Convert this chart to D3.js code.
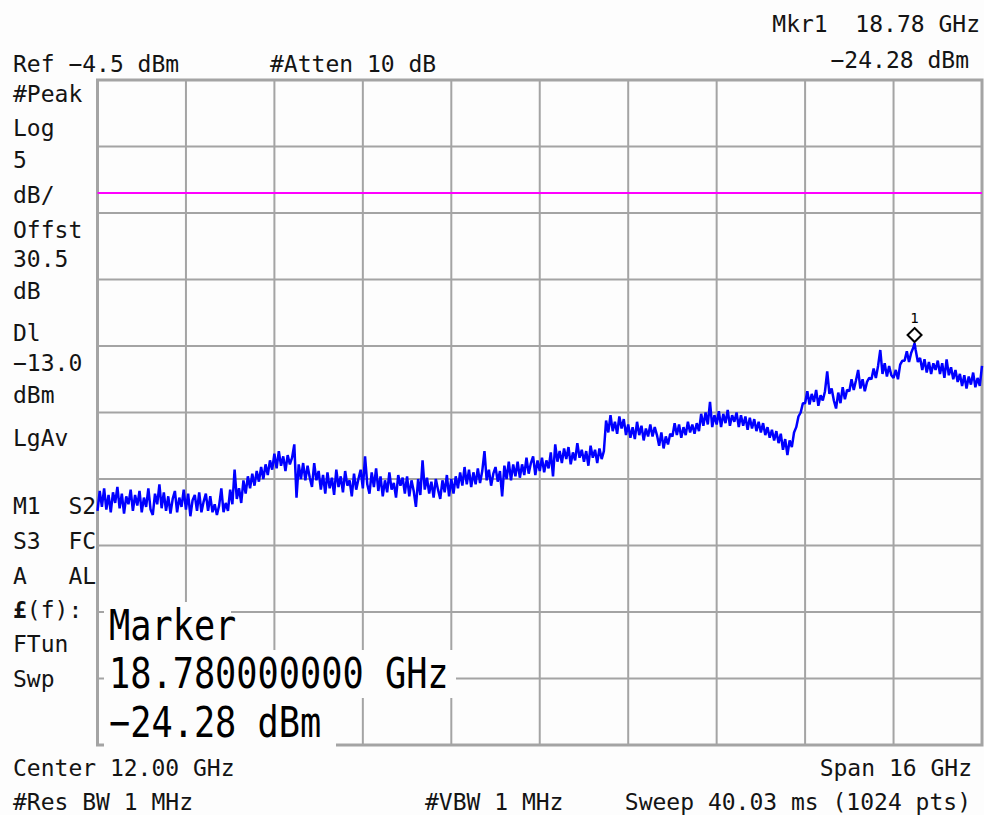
<!DOCTYPE html>
<html>
<head>
<meta charset="utf-8">
<script src="https://cdn.jsdelivr.net/npm/d3@7"></script>
<style>
  html, body { margin: 0; padding: 0; background: #fdfdfd; }
  svg { display: block; }
  text { font-family: "DejaVu Sans Mono", "Liberation Mono", monospace; fill: #141414; white-space: pre; }
</style>
</head>
<body>
<svg id="chart" width="984" height="815"></svg>
<script>
// Analyzer settings
const startGHz = 4.0;
const stopGHz = 20.0;
const refLevel = -4.5;          // dBm, top graticule line
const dbPerDiv = 5;
const divisions = 10;
const displayLine = -13.0;      // dBm
const markerFreq = 18.78;       // GHz
const markerLevel = -24.28;     // dBm
const stepGHz = 0.04;

// Trace levels (dBm), one every 0.04 GHz from 4 GHz to 20 GHz
const traceLevels = [
  -36.9,-35.4,-36.6,-35.2,-36.8,-35.7,-37.0,-35.5,-36.3,-35.1,
  -36.7,-35.6,-37.1,-35.8,-36.4,-35.3,-36.9,-35.7,-36.5,-35.4,
  -37.0,-35.9,-36.6,-35.2,-36.8,-37.2,-35.6,-36.4,-34.9,-36.7,
  -35.5,-36.9,-35.8,-37.1,-36.0,-35.4,-37.0,-35.9,-36.6,-35.3,
  -36.8,-35.6,-37.3,-36.1,-35.7,-36.9,-35.5,-37.0,-36.2,-35.6,
  -36.9,-35.8,-37.0,-36.4,-37.2,-36.5,-35.2,-37.0,-36.3,-36.9,
  -35.3,-36.4,-33.8,-36.0,-35.2,-36.3,-34.6,-35.6,-34.3,-35.2,
  -34.1,-35.0,-33.9,-34.7,-33.6,-34.5,-33.4,-34.2,-33.1,-33.8,
  -32.6,-33.7,-32.4,-33.5,-32.8,-33.9,-32.7,-33.4,-32.9,-31.9,
  -35.9,-33.4,-34.5,-33.3,-34.6,-33.5,-34.4,-35.1,-33.3,-34.6,
  -33.9,-35.3,-34.2,-35.6,-34.0,-35.2,-34.4,-35.7,-33.8,-35.1,
  -34.3,-35.5,-33.9,-35.0,-34.6,-35.8,-34.1,-35.3,-34.5,-33.8,
  -35.2,-32.8,-34.9,-35.6,-34.0,-35.1,-33.7,-35.4,-34.3,-35.8,
  -34.6,-35.5,-34.0,-35.3,-34.8,-35.9,-34.2,-35.0,-34.4,-35.6,
  -34.3,-35.8,-34.6,-35.4,-36.6,-34.5,-35.7,-33.1,-35.3,-34.4,
  -35.6,-34.7,-35.9,-34.5,-35.3,-36.0,-34.6,-35.5,-34.2,-35.8,
  -34.5,-35.6,-34.3,-35.2,-34.0,-35.0,-33.6,-34.9,-33.8,-35.1,
  -34.0,-34.9,-33.7,-34.8,-33.9,-32.4,-34.6,-33.8,-35.0,-34.1,
  -33.6,-34.7,-33.9,-35.8,-33.5,-34.5,-33.2,-34.6,-33.4,-34.3,
  -33.2,-34.4,-33.4,-34.2,-32.9,-34.1,-33.3,-32.8,-34.2,-33.1,
  -33.9,-32.9,-34.0,-33.1,-33.7,-32.5,-34.3,-31.9,-33.2,-32.4,
  -33.3,-32.2,-33.0,-32.1,-33.4,-32.5,-33.1,-31.8,-32.9,-32.3,
  -33.2,-32.4,-33.5,-32.0,-32.9,-32.3,-33.3,-32.2,-33.0,-32.4,
  -30.1,-31.0,-29.7,-30.9,-30.2,-31.1,-29.8,-30.7,-30.0,-31.2,
  -30.4,-31.4,-30.6,-31.5,-30.2,-31.2,-30.5,-31.6,-30.7,-31.3,
  -30.4,-31.3,-30.6,-31.2,-32.0,-31.0,-32.2,-31.3,-31.9,-31.1,
  -31.3,-30.3,-31.2,-30.4,-31.4,-30.6,-31.2,-30.2,-31.0,-30.4,
  -31.1,-30.3,-30.9,-29.6,-30.5,-29.5,-30.4,-28.7,-30.6,-29.7,
  -30.4,-29.4,-30.6,-29.6,-30.3,-29.3,-30.5,-29.7,-30.2,-29.5,
  -30.6,-29.7,-30.5,-29.8,-30.8,-29.9,-30.7,-30.0,-30.9,-30.2,
  -31.0,-30.3,-31.2,-30.6,-31.4,-30.8,-31.6,-30.9,-31.8,-31.1,
  -32.3,-31.5,-32.7,-31.6,-32.1,-31.0,-30.6,-29.8,-29.5,-28.8,
  -28.8,-27.9,-28.9,-28.1,-28.7,-27.8,-29.0,-28.2,-28.6,-27.9,
  -26.4,-28.1,-27.7,-28.6,-29.2,-28.0,-28.8,-27.6,-28.5,-27.8,
  -27.9,-27.0,-27.8,-27.1,-26.3,-27.7,-27.0,-27.9,-27.2,-26.9,
  -27.0,-26.2,-26.9,-26.0,-24.8,-26.6,-25.8,-26.8,-26.0,-26.7,
  -26.9,-26.3,-27.0,-25.9,-25.6,-25.6,-24.9,-25.7,-25.0,-24.6,
  -24.8,-25.7,-25.4,-26.3,-25.5,-26.5,-25.7,-26.6,-25.8,-26.3,
  -25.6,-26.6,-25.8,-26.9,-25.5,-26.7,-26.1,-27.0,-26.3,-27.2,
  -26.6,-27.5,-26.7,-27.7,-26.8,-27.4,-26.5,-27.6,-26.9,-27.5,
  -26.0
];

// Annotation texts
const topLeftLabels = ["Ref \u22124.5 dBm", "#Atten 10 dB"];
const markerReadout = ["Mkr1  18.78 GHz", "\u221224.28 dBm"];
const sideLabels = ["#Peak", "Log", "5", "dB/", "Offst", "30.5", "dB", "Dl", "\u221213.0", "dBm", "LgAv"];
const sideLabelsLower = ["M1  S2", "S3  FC", "A   AL", "(f):", "FTun", "Swp"];
const markerBoxLines = ["Marker", "18.780000000 GHz", "\u221224.28 dBm"];
const bottomLabels = ["Center 12.00 GHz", "Span 16 GHz", "#Res BW 1 MHz", "#VBW 1 MHz", "Sweep 40.03 ms (1024 pts)"];

const svg = d3.select("#chart");
const W = 984, H = 815;
const plot = { left: 97.5, right: 982, top: 80, bottom: 745 };

const x = d3.scaleLinear().domain([startGHz, stopGHz]).range([plot.left, plot.right]);
const y = d3.scaleLinear()
  .domain([refLevel - dbPerDiv * divisions, refLevel])
  .range([plot.bottom, plot.top]);

svg.append("rect").attr("width", W).attr("height", H).attr("fill", "#fdfdfd");

// Graticule
const gridColor = "#a4a4a4";
const xTicks = d3.range(divisions + 1).map(i => startGHz + i * (stopGHz - startGHz) / divisions);
const yTicks = d3.range(divisions + 1).map(i => refLevel - i * dbPerDiv);
const grid = svg.append("g");
grid.selectAll("line.v").data(xTicks.slice(1, -1)).join("line")
  .attr("x1", d => x(d)).attr("x2", d => x(d))
  .attr("y1", plot.top).attr("y2", plot.bottom)
  .attr("stroke", gridColor).attr("stroke-width", 2);
grid.selectAll("line.h").data(yTicks.slice(1, -1)).join("line")
  .attr("x1", plot.left).attr("x2", plot.right)
  .attr("y1", d => y(d)).attr("y2", d => y(d))
  .attr("stroke", gridColor).attr("stroke-width", 2);
grid.append("rect")
  .attr("x", plot.left).attr("y", plot.top)
  .attr("width", plot.right - plot.left).attr("height", plot.bottom - plot.top)
  .attr("fill", "none").attr("stroke", gridColor).attr("stroke-width", 3);

// Display line
svg.append("line")
  .attr("x1", plot.left).attr("x2", plot.right)
  .attr("y1", y(displayLine)).attr("y2", y(displayLine))
  .attr("stroke", "#ff00ff").attr("stroke-width", 2);

// Trace
const tracePts = traceLevels.map((v, i) => ({ f: startGHz + i * stepGHz, v }));
tracePts.push({ f: markerFreq, v: markerLevel });
tracePts.sort((a, b) => a.f - b.f);
const line = d3.line().x(d => x(d.f)).y(d => y(d.v));
svg.append("path")
  .datum(tracePts)
  .attr("d", line)
  .attr("fill", "none")
  .attr("stroke", "#0000ff")
  .attr("stroke-width", 2.5)
  .attr("stroke-linejoin", "bevel");

// Marker 1 diamond
const mx = x(markerFreq), my = y(markerLevel);
svg.append("path")
  .attr("d", `M${mx},${my - 15} L${mx + 7},${my - 8} L${mx},${my - 1} L${mx - 7},${my - 8} Z`)
  .attr("fill", "#fdfdfd").attr("stroke", "#000").attr("stroke-width", 2);
svg.append("text").attr("x", mx).attr("y", my - 20)
  .attr("text-anchor", "middle").style("font-size", "14px").style("fill", "#000").text("1");

// Header annotations
const small = "23px";
svg.append("text").attr("x", 13).attr("y", 72).style("font-size", small).text(topLeftLabels[0]);
svg.append("text").attr("x", 270).attr("y", 72).style("font-size", small).text(topLeftLabels[1]);
svg.append("text").attr("x", 980).attr("y", 32).attr("text-anchor", "end").style("font-size", small).text(markerReadout[0]);
svg.append("text").attr("x", 969).attr("y", 68).attr("text-anchor", "end").style("font-size", small).text(markerReadout[1]);

// Left-side status column
const sideY = [102, 136, 168, 203, 238, 267, 299, 341, 371, 403, 446];
svg.selectAll("text.side").data(sideLabels).join("text")
  .attr("class", "side")
  .attr("x", 13).attr("y", (d, i) => sideY[i])
  .style("font-size", small).text(d => d);

const sideLowerY = [514, 549, 584, 618, 652, 687];
svg.selectAll("text.sideLow").data(sideLabelsLower).join("text")
  .attr("class", "sideLow")
  .attr("x", 13).attr("y", (d, i) => sideLowerY[i])
  .style("font-size", small)
  .each(function (d, i) {
    const t = d3.select(this);
    if (i === 3) {
      t.append("tspan").style("font-weight", "bold").text("\u00a3");
      t.append("tspan").text(d);
    } else {
      t.text(d);
    }
  });

// Marker readout box
const boxRows = [
  { x0: 104, x1: 231, y0: 602, y1: 650, base: 640 },
  { x0: 104, x1: 456, y0: 650, y1: 698, base: 688 },
  { x0: 104, x1: 336, y0: 698, y1: 749, base: 737 }
];
svg.selectAll("rect.box").data(boxRows).join("rect")
  .attr("x", d => d.x0).attr("y", d => d.y0)
  .attr("width", d => d.x1 - d.x0).attr("height", d => d.y1 - d.y0)
  .attr("fill", "#fdfdfd");
svg.selectAll("text.box").data(markerBoxLines).join("text")
  .attr("transform", (d, i) => `translate(109,${boxRows[i].base}) scale(0.82,1)`)
  .style("font-size", "43px").style("fill", "#000").text(d => d);

// Footer annotations
svg.append("text").attr("x", 13).attr("y", 776).style("font-size", small).text(bottomLabels[0]);
svg.append("text").attr("x", 972).attr("y", 776).attr("text-anchor", "end").style("font-size", small).text(bottomLabels[1]);
svg.append("text").attr("x", 13).attr("y", 810).style("font-size", small).text(bottomLabels[2]);
svg.append("text").attr("x", 425).attr("y", 810).style("font-size", small).text(bottomLabels[3]);
svg.append("text").attr("x", 971).attr("y", 810).attr("text-anchor", "end").style("font-size", small).text(bottomLabels[4]);
</script>
</body>
</html>
